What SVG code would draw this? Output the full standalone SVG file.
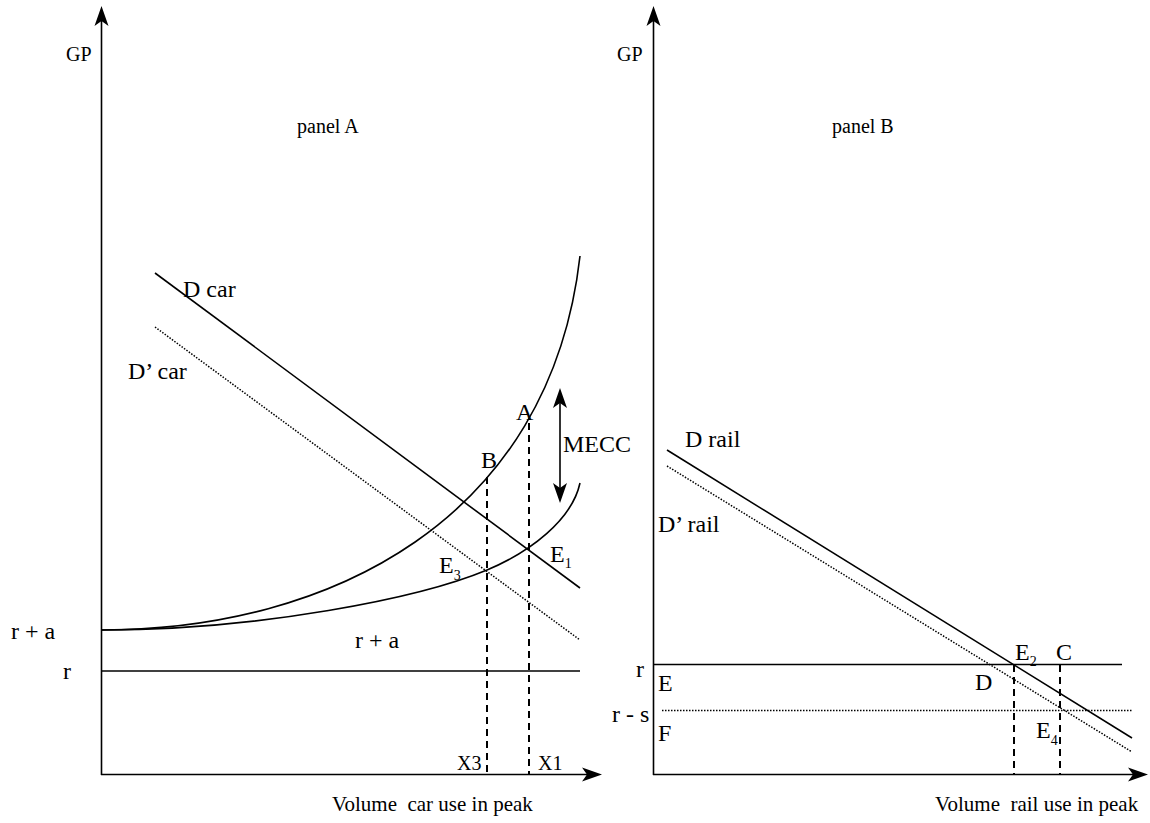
<svg xmlns="http://www.w3.org/2000/svg" width="1150" height="823" viewBox="0 0 1150 823">
<style>
text{font-family:"Liberation Serif","Times New Roman","DejaVu Serif",serif;fill:#000}
.lb{font-size:24px}
.sm{font-size:20px}
.ax{font-size:21px;white-space:pre}
.sub{font-size:14px}
.ln{stroke:#000;stroke-width:1.6;fill:none}
.dash{stroke:#000;stroke-width:2;fill:none;stroke-dasharray:7,5}
.dot{stroke:#000;stroke-width:1.5;fill:none;stroke-dasharray:1.5,1.5}
.ah{fill:#000;stroke:none}
</style>
<rect width="1150" height="823" fill="#fff"/>
<g id="axes-a">
<line class="ln" x1="101.5" y1="775" x2="101.5" y2="18"/>
<path class="ah" d="M101.5,6 L108.5,26 L101.5,21 L94.5,26 Z"/>
<line class="ln" x1="101" y1="774.5" x2="590" y2="774.5"/>
<path class="ah" d="M602,774.5 L582,781.5 L587,774.5 L582,767.5 Z"/>
<text class="sm" x="66" y="61">GP</text>
<text class="sm" x="297" y="133">panel A</text>
<text class="ax" x="332" y="811">Volume  car use in peak</text>
</g>
<g id="axes-b">
<line class="ln" x1="653.5" y1="775" x2="653.5" y2="18"/>
<path class="ah" d="M653.5,6 L660.5,26 L653.5,21 L646.5,26 Z"/>
<line class="ln" x1="653" y1="774.5" x2="1136" y2="774.5"/>
<path class="ah" d="M1148,774.5 L1128,781.5 L1133,774.5 L1128,767.5 Z"/>
<text class="sm" x="617" y="61">GP</text>
<text class="sm" x="832" y="133">panel B</text>
<text class="ax" x="935" y="811">Volume  rail use in peak</text>
</g>
<g id="connectors">
<line class="ln" x1="101" y1="671" x2="580" y2="671"/>
<line class="ln" x1="155" y1="273" x2="580" y2="588"/>
<line class="dot" x1="155" y1="327" x2="580" y2="640"/>
<path class="ln" d="M101,630 C330,630 550,520 580,256"/>
<path class="ln" d="M101,630 C260,630 420,598 487,570 C530,552 572,520 580,483"/>
<line class="dash" x1="487" y1="477" x2="487" y2="775"/>
<line class="dash" x1="529" y1="423" x2="529" y2="775"/>
<line class="ln" x1="560" y1="398" x2="560" y2="493"/>
<path class="ah" d="M560,388 L567,408 L560,403 L553,408 Z"/>
<path class="ah" d="M560,503 L567,483 L560,488 L553,483 Z"/>
<line class="ln" x1="654" y1="664.5" x2="1122" y2="664.5"/>
<line class="dot" x1="662" y1="710.5" x2="1132" y2="710.5"/>
<line class="ln" x1="667" y1="450" x2="1132" y2="738"/>
<line class="dot" x1="667" y1="466" x2="1132" y2="752"/>
<line class="dash" x1="1014" y1="665" x2="1014" y2="775"/>
<line class="dash" x1="1060" y1="665" x2="1060" y2="775"/>
</g>
<g id="labels-a">
<text class="lb" x="183" y="297">D car</text>
<text class="lb" x="128" y="379">D’ car</text>
<text class="lb" x="516" y="420">A</text>
<text class="lb" x="481" y="468">B</text>
<text class="lb" x="563" y="452">MECC</text>
<text class="lb" x="550" y="562">E<tspan class="sub" dy="6">1</tspan></text>
<text class="lb" x="439" y="573">E<tspan class="sub" dy="7">3</tspan></text>
<text class="lb" x="355" y="648">r + a</text>
<text class="lb" x="11" y="639">r + a</text>
<text class="lb" x="63" y="679">r</text>
<text class="sm" x="457" y="770">X3</text>
<text class="sm" x="538" y="770">X1</text>
</g>
<g id="labels-b">
<text class="lb" x="685" y="447">D rail</text>
<text class="lb" x="658" y="532">D’ rail</text>
<text class="lb" x="636" y="677">r</text>
<text class="lb" x="658" y="691">E</text>
<text class="lb" x="612" y="722">r - s</text>
<text class="lb" x="658" y="741">F</text>
<text class="lb" x="975" y="690">D</text>
<text class="lb" x="1015" y="660">E<tspan class="sub" dy="6">2</tspan></text>
<text class="lb" x="1056" y="660">C</text>
<text class="lb" x="1036" y="738">E<tspan class="sub" dy="7">4</tspan></text>
</g>
</svg>
